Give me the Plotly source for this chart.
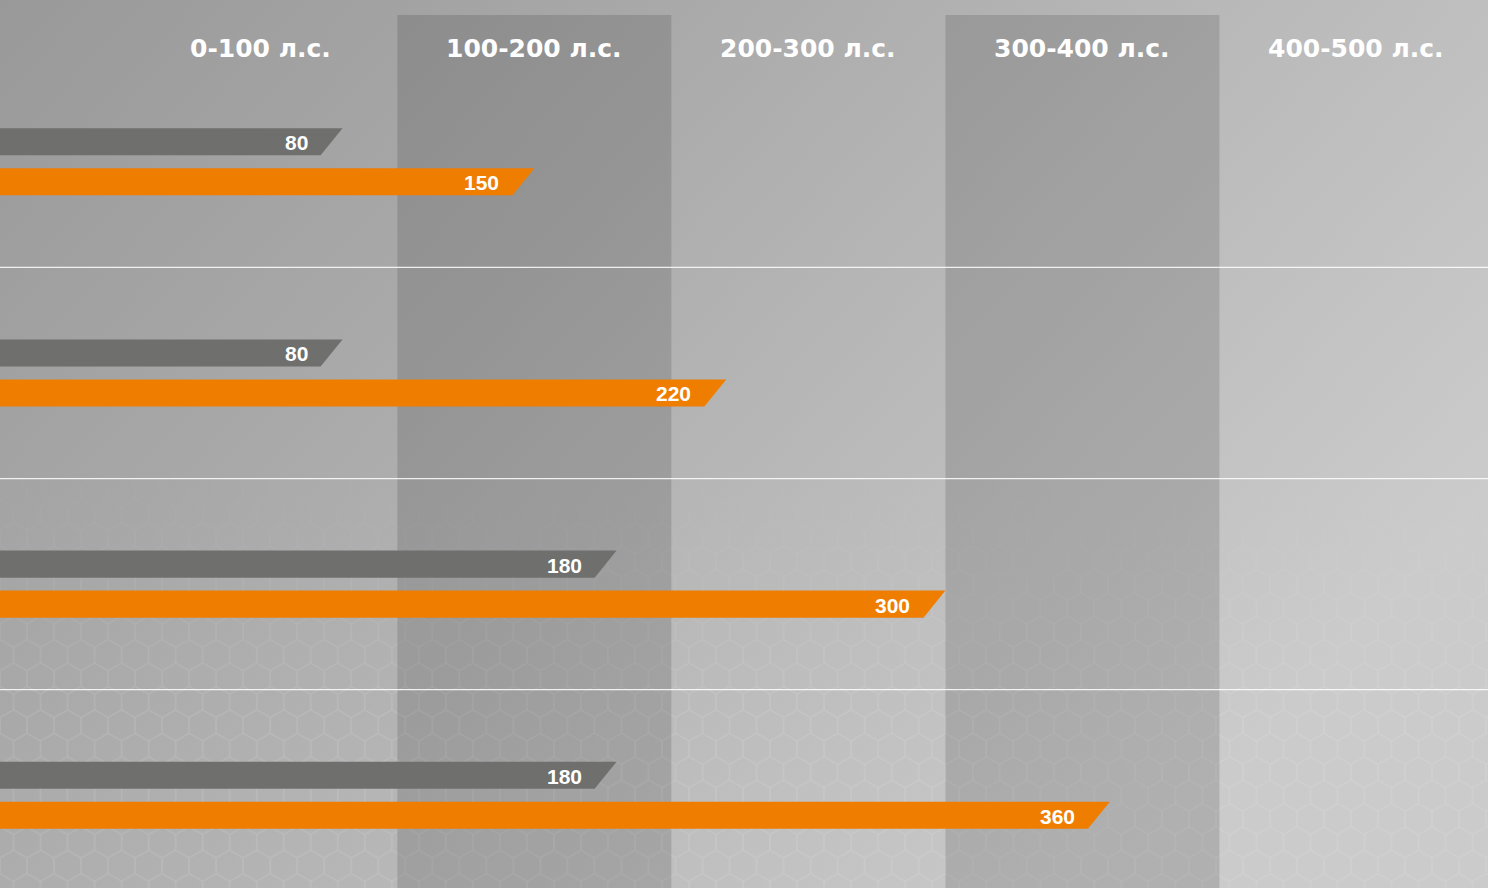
import base64
import plotly.graph_objects as go

# ---- data ----
groups = [0, 1, 2, 3]                      # group order (top to bottom)
gray_values = [80, 80, 180, 180]
orange_values = [150, 220, 300, 360]
column_labels = ["0-100 л.с.", "100-200 л.с.", "200-300 л.с.", "300-400 л.с.", "400-500 л.с."]
column_starts = [0, 100, 200, 300, 400]
column_width = 100

GRAY = "#6f6f6d"
ORANGE = "#ef7d00"

X_RANGE = [-45, 498]
Y_RANGE = [3.439, -0.766]
BAR_H = 0.128          # bar thickness in y units
OFFSET = 0.0947        # offset of each series from group centre
SLANT = 8.0            # slanted tip length in x units

# ---- background (gradient + hexagon texture) as an SVG image ----
s = 15.6
w = 27.02
hexpath = (f"M{w/2},0 V{0.5*s} L{w},{s} V{2*s} L{w/2},{2.5*s} V{3*s} "
           f"M{w/2},{0.5*s} L0,{s} V{2*s} L{w/2},{2.5*s}")
svg = f'''<svg xmlns="http://www.w3.org/2000/svg" width="1488" height="888" viewBox="0 0 1488 888" preserveAspectRatio="none">
<defs>
<linearGradient id="bg" x1="0" y1="0" x2="1" y2="0.55">
<stop offset="0" stop-color="#999999"/>
<stop offset="0.35" stop-color="#a9a9a9"/>
<stop offset="0.65" stop-color="#b9b9ba"/>
<stop offset="1" stop-color="#cbcbcc"/>
</linearGradient>
<pattern id="hex" width="{w}" height="{3*s}" patternUnits="userSpaceOnUse">
<path d="{hexpath}" fill="none" stroke="#ffffff" stroke-opacity="0.11" stroke-width="1.6"/>
</pattern>
<linearGradient id="fade" x1="0" y1="0" x2="0" y2="1">
<stop offset="0" stop-color="#fff" stop-opacity="0"/>
<stop offset="0.5" stop-color="#fff" stop-opacity="0"/>
<stop offset="0.8" stop-color="#fff" stop-opacity="1"/>
<stop offset="1" stop-color="#fff" stop-opacity="1"/>
</linearGradient>
<mask id="m"><rect width="1488" height="888" fill="url(#fade)"/></mask>
</defs>
<rect width="1488" height="888" fill="url(#bg)"/>
<rect width="1488" height="888" fill="url(#hex)" mask="url(#m)"/>
</svg>'''
bg_uri = "data:image/svg+xml;base64," + base64.b64encode(svg.encode("utf-8")).decode("ascii")

fig = go.Figure()


def bar_polygon(value, yc):
    top = yc - BAR_H / 2
    bot = yc + BAR_H / 2
    xs = [X_RANGE[0] - 20, value, value - SLANT, X_RANGE[0] - 20, X_RANGE[0] - 20]
    ys = [top, top, bot, bot, top]
    return xs, ys


for g, gv, ov in zip(groups, gray_values, orange_values):
    for val, off, col in ((gv, -OFFSET, GRAY), (ov, OFFSET, ORANGE)):
        xs, ys = bar_polygon(val, g + off)
        fig.add_trace(go.Scatter(x=xs, y=ys, mode="lines", fill="toself",
                                 fillcolor=col, line=dict(width=0, color=col),
                                 hoverinfo="skip", showlegend=False))
        fig.add_annotation(x=val, y=g + off, xref="x", yref="y", text=f"<b>{val}</b>",
                           showarrow=False, xanchor="right", yanchor="middle",
                           xshift=-33, yshift=-1,
                           font=dict(family="Liberation Sans, Arial", size=21, color="white"))

shapes = []
# darker alternating column bands
for i, x0 in enumerate(column_starts):
    if i % 2 == 1:
        shapes.append(dict(type="rect", xref="x", yref="paper", x0=x0, x1=x0 + column_width,
                           y0=0, y1=1 - 15 / 888, fillcolor="rgba(0,0,0,0.13)",
                           line=dict(width=0), layer="below"))
# group separators
for g in groups[:-1]:
    shapes.append(dict(type="line", xref="paper", yref="y", x0=0, x1=1, y0=g + 0.5, y1=g + 0.5,
                       line=dict(color="rgba(255,255,255,0.85)", width=1.2), layer="above"))

# column headers
for x0, lab in zip(column_starts, column_labels):
    fig.add_annotation(x=x0 + column_width / 2, y=1 - 48 / 888, xref="x", yref="paper",
                       text=f"<b>{lab}</b>", showarrow=False, xanchor="center", yanchor="middle",
                       font=dict(family="DejaVu Sans", size=25, color="white"))

fig.update_layout(
    width=1488, height=888, autosize=False,
    margin=dict(l=0, r=0, t=0, b=0, pad=0),
    paper_bgcolor="#b0b0b0", plot_bgcolor="rgba(0,0,0,0)",
    xaxis=dict(range=X_RANGE, visible=False, fixedrange=True),
    yaxis=dict(range=Y_RANGE, visible=False, fixedrange=True),
    shapes=shapes,
    images=[dict(source=bg_uri, xref="paper", yref="paper", x=0, y=1, sizex=1, sizey=1,
                 xanchor="left", yanchor="top", sizing="stretch", layer="below")],
    showlegend=False,
)

fig.write_html("out.html", config={"displayModeBar": False},
               post_script="document.body.style.margin='0';document.body.style.overflow='hidden';")
